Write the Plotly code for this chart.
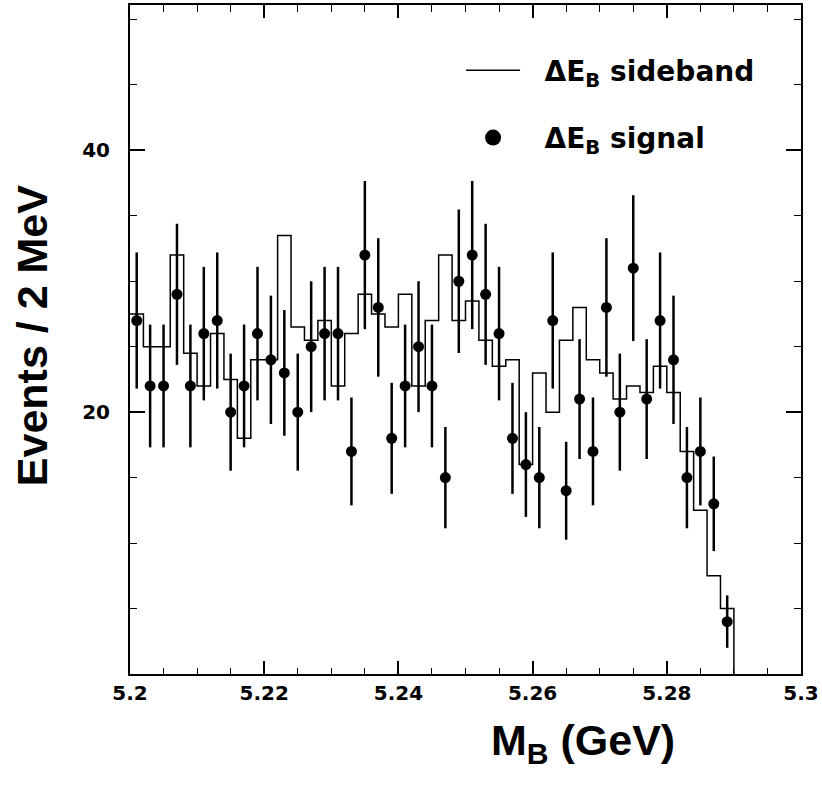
import plotly.graph_objects as go

# ---- data ----
mass = [5.201, 5.203, 5.205, 5.207, 5.209, 5.211, 5.213, 5.215, 5.217, 5.219,
        5.221, 5.223, 5.225, 5.227, 5.229, 5.231, 5.233, 5.235, 5.237, 5.239,
        5.241, 5.243, 5.245, 5.247, 5.249, 5.251, 5.253, 5.255, 5.257, 5.259,
        5.261, 5.263, 5.265, 5.267, 5.269, 5.271, 5.273, 5.275, 5.277, 5.279,
        5.281, 5.283, 5.285, 5.287, 5.289]
bin_width = 0.002

signal = [27, 22, 22, 29, 22, 26, 27, 20, 22, 26,
          24, 23, 20, 25, 26, 26, 17, 32, 28, 18,
          22, 25, 22, 15, 30, 32, 29, 26, 18, 16,
          15, 27, 14, 21, 17, 28, 20, 31, 21, 27,
          24, 15, 17, 13, 4]
signal_err = [5.20, 4.69, 4.69, 5.39, 4.69, 5.10, 5.20, 4.47, 4.69, 5.10,
              4.90, 4.80, 4.47, 5.00, 5.10, 5.10, 4.12, 5.66, 5.29, 4.24,
              4.69, 5.00, 4.69, 3.87, 5.48, 5.66, 5.39, 5.10, 4.24, 4.00,
              3.87, 5.20, 3.74, 4.58, 4.12, 5.29, 4.47, 5.57, 4.58, 5.20,
              4.90, 3.87, 4.12, 3.61, 2.00]

sideband = [27.5, 25, 25, 32, 24.5, 22, 26, 22.5, 18, 24,
            24, 33.5, 26.5, 25.5, 27, 22, 26, 29, 27.5, 26.5,
            29, 22, 27, 32, 27, 28.5, 25.5, 23.5, 24, 16,
            23, 20, 25.5, 28, 24, 23, 21, 22, 21.5, 23.5,
            21.5, 17, 12.5, 7.5, 5]

x_ticks = [5.2, 5.22, 5.24, 5.26, 5.28, 5.3]
x_tick_text = ["5.2", "5.22", "5.24", "5.26", "5.28", "5.3"]
y_ticks = [20, 40]
y_tick_text = ["20", "40"]

# step outline of the sideband histogram (left bin edges, closed at the end)
edges = [round(m - bin_width / 2, 4) for m in mass]
step_x = edges + [round(mass[-1] + bin_width / 2, 4)]
step_y = sideband + [0]

pad = "\u00a0\u00a0"

fig = go.Figure()
fig.add_trace(go.Scatter(
    x=step_x, y=step_y, mode="lines", line=dict(shape="hv", color="black", width=1.5),
    name=pad + "ΔE<sub>B</sub> sideband", legendgroup="a"))
fig.add_trace(go.Scatter(
    x=mass, y=signal, mode="markers",
    marker=dict(color="black", size=11, symbol="circle"),
    error_y=dict(type="data", array=signal_err, visible=True, color="black",
                 thickness=2.5, width=0),
    name="signal", showlegend=False))
# legend entry for the signal points (larger marker, as in the reference key)
fig.add_trace(go.Scatter(
    x=[None], y=[None], mode="markers",
    marker=dict(color="black", size=16, symbol="circle"),
    name=pad + "ΔE<sub>B</sub> signal", legendgroup="b"))

tickfont = dict(family="DejaVu Sans", size=20, color="black", weight="bold")
titlefont = dict(family="Liberation Sans, Arial", size=43,
                 color="black", weight="bold")

fig.update_layout(
    width=822, height=790,
    margin=dict(l=130, r=20, t=3, b=116),
    paper_bgcolor="white", plot_bgcolor="white",
    showlegend=True,
    legend=dict(x=0.4934, y=0.9395, xanchor="left", yanchor="top",
                font=dict(family="DejaVu Sans", size=28, color="black", weight="bold"),
                bgcolor="rgba(0,0,0,0)", tracegroupgap=28, itemwidth=54,
                itemsizing="trace"),
    annotations=[
        dict(text="Events / 2 MeV", xref="paper", yref="paper", x=-0.146, y=0.505,
             textangle=-90, showarrow=False, xanchor="center", yanchor="middle",
             font=titlefont),
        dict(text="M<sub>B</sub> (GeV)", xref="paper", yref="paper", x=0.675, y=-0.103,
             showarrow=False, xanchor="center", yanchor="middle", font=titlefont),
    ],
)

fig.update_xaxes(
    range=[5.2, 5.3], tickvals=x_ticks, ticktext=x_tick_text,
    showgrid=False, zeroline=False, showline=True, linecolor="black", linewidth=2,
    mirror="ticks", ticks="inside", ticklen=13, tickwidth=1.5, tickcolor="black",
    tickfont=tickfont,
    minor=dict(dtick=0.005, tick0=5.2, ticks="inside", ticklen=6.5, tickwidth=1.2,
               tickcolor="black", showgrid=False),
)
fig.update_yaxes(
    range=[0, 51.1], tickvals=y_ticks, ticktext=y_tick_text,
    showgrid=False, zeroline=False, showline=True, linecolor="black", linewidth=2,
    mirror="ticks", ticks="inside", ticklen=15, tickwidth=1.5, tickcolor="black",
    tickfont=tickfont, ticklabelstandoff=14,
    minor=dict(dtick=5, tick0=0, ticks="inside", ticklen=7, tickwidth=1.2,
               tickcolor="black", showgrid=False),
)

fig.write_html("out.html", config={"displayModeBar": False},
               post_script="document.body.style.margin='0';document.body.style.overflow='hidden';")
